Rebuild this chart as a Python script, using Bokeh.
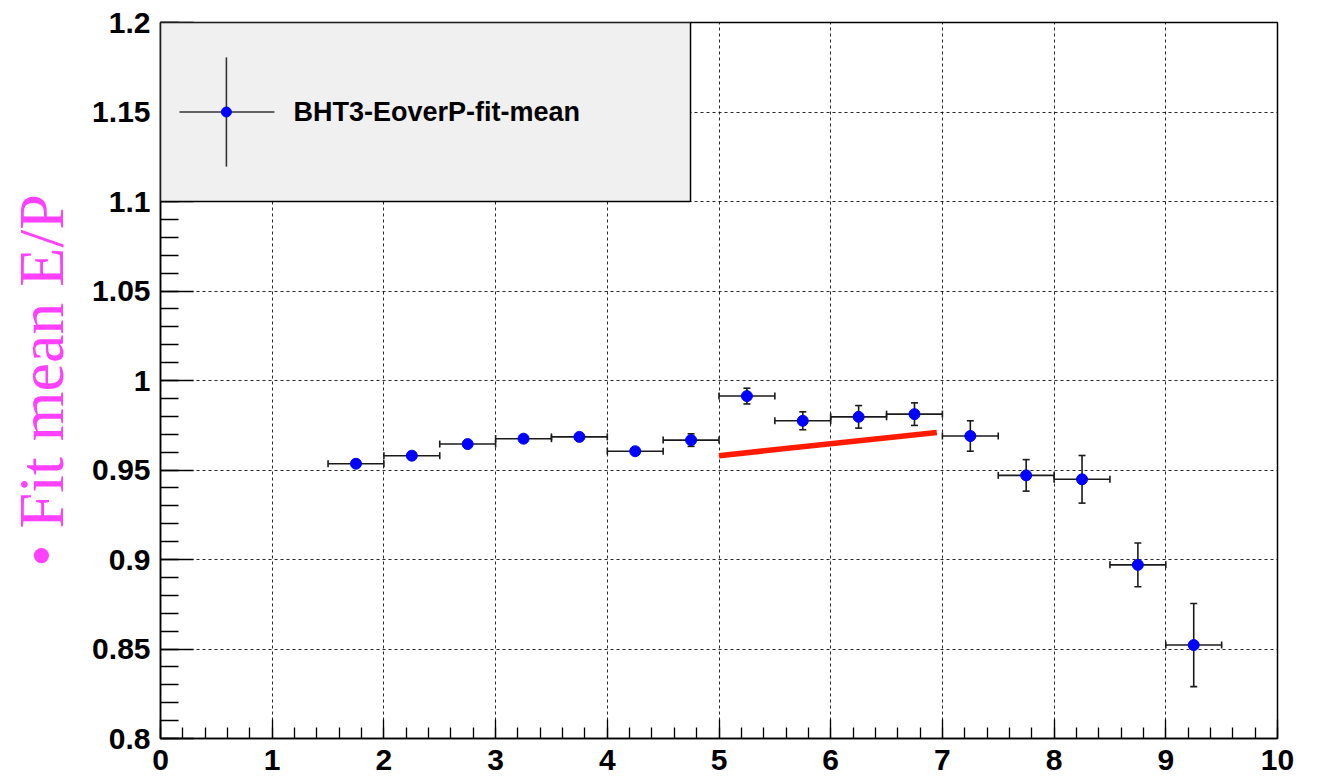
from bokeh.plotting import figure
from bokeh.models import ColumnDataSource, Whisker, TeeHead, FixedTicker, BoxAnnotation, Label
from bokeh.embed import file_html
from bokeh.resources import INLINE

# ---- data ----
bin_centers = [1.75, 2.25, 2.75, 3.25, 3.75, 4.25, 4.75, 5.25,
               5.75, 6.25, 6.75, 7.25, 7.75, 8.25, 8.75, 9.25]
bin_half_widths = [0.25, 0.25, 0.25, 0.25, 0.25, 0.25, 0.25, 0.25,
                   0.25, 0.25, 0.25, 0.25, 0.25, 0.25, 0.25, 0.25]
mean_ep = [0.9535, 0.9580, 0.9645, 0.9675, 0.9685, 0.9605, 0.9667, 0.9913,
           0.9775, 0.9797, 0.9812, 0.9690, 0.9470, 0.9448, 0.8970, 0.8522]
mean_ep_err = [0.0018, 0.0018, 0.0018, 0.0018, 0.0018, 0.0018, 0.0035, 0.0044,
               0.0050, 0.0063, 0.0063, 0.0085, 0.0088, 0.0133, 0.0122, 0.0232]
fit_x = [5.0, 6.95]
fit_y = [0.958, 0.971]

x_ticks = [0, 1, 2, 3, 4, 5, 6, 7, 8, 9, 10]
y_ticks = [0.8, 0.85, 0.9, 0.95, 1.0, 1.05, 1.1, 1.15, 1.2]
y_tick_labels = ["0.8", "0.85", "0.9", "0.95", "1", "1.05", "1.1", "1.15", "1.2"]
legend_label = "BHT3-EoverP-fit-mean"
y_title = "\u2022 Fit mean E/P"

# ---- figure ----
p = figure(width=1310, height=776, x_range=(0, 10), y_range=(0.8, 1.2),
           output_backend="svg", toolbar_location=None,
           min_border_left=160, min_border_right=33, min_border_top=22, min_border_bottom=38)
p.background_fill_color = "white"
p.border_fill_color = "white"
p.outline_line_color = "black"
p.outline_line_width = 1.5

x_minor = [round(i * 0.2, 2) for i in range(51)]
y_minor = [round(0.8 + 0.01 * i, 2) for i in range(41)]
p.xaxis.ticker = FixedTicker(ticks=x_ticks, minor_ticks=x_minor)
p.yaxis.ticker = FixedTicker(ticks=y_ticks, minor_ticks=y_minor)
p.yaxis.major_label_overrides = {t: s for t, s in zip(y_ticks, y_tick_labels)}

for ax in (p.xaxis, p.yaxis):
    ax.axis_line_color = "black"
    ax.axis_line_width = 1.5
    ax.major_tick_line_color = "black"
    ax.minor_tick_line_color = "black"
    ax.major_tick_line_width = 1.3
    ax.minor_tick_line_width = 1.3
    ax.major_tick_out = 0
    ax.minor_tick_out = 0
    ax.major_label_text_font = "Liberation Sans"
    ax.major_label_text_font_style = "bold"
    ax.major_label_text_font_size = "30px"
    ax.major_label_text_color = "black"

p.xaxis.major_tick_in = 19
p.xaxis.minor_tick_in = 11
p.xaxis.major_label_standoff = 11
p.yaxis.major_tick_in = 33
p.yaxis.minor_tick_in = 18
p.yaxis.major_label_standoff = 10

p.yaxis.axis_label = y_title
p.yaxis.axis_label_text_font = "Liberation Serif"
p.yaxis.axis_label_text_font_style = "normal"
p.yaxis.axis_label_text_font_size = "64px"
p.yaxis.axis_label_text_color = "#ff40ff"
p.yaxis.axis_label_standoff = 12

for g in (p.xgrid, p.ygrid):
    g.grid_line_color = "black"
    g.grid_line_dash = "3 3"
    g.grid_line_width = 1
    g.grid_line_alpha = 0.85

# ---- data marks ----
src = ColumnDataSource(dict(
    x=bin_centers, y=mean_ep,
    xl=[c - w for c, w in zip(bin_centers, bin_half_widths)],
    xu=[c + w for c, w in zip(bin_centers, bin_half_widths)],
    yl=[v - e for v, e in zip(mean_ep, mean_ep_err)],
    yu=[v + e for v, e in zip(mean_ep, mean_ep_err)],
))

err_col = "#1a1a1a"
wx = Whisker(source=src, base="y", lower="xl", upper="xu", dimension="width",
             line_color=err_col, line_width=1.6, level="underlay",
             lower_head=TeeHead(size=7, line_color=err_col, line_width=1.6),
             upper_head=TeeHead(size=7, line_color=err_col, line_width=1.6))
wy = Whisker(source=src, base="x", lower="yl", upper="yu", dimension="height",
             line_color=err_col, line_width=1.6, level="underlay",
             lower_head=TeeHead(size=7, line_color=err_col, line_width=1.6),
             upper_head=TeeHead(size=7, line_color=err_col, line_width=1.6))
p.add_layout(wx)
p.add_layout(wy)

p.line(fit_x, fit_y, line_color="#ff1a00", line_width=5.5)
p.scatter("x", "y", source=src, size=11, fill_color="#0000ff", line_color="#0000ff")

# ---- legend box (ROOT style) ----
p.add_layout(BoxAnnotation(left=0, right=4.745, top=1.2, bottom=1.1,
                           fill_color="#f0f0f0", fill_alpha=1.0,
                           line_color="black", line_width=1.5, line_alpha=1.0))
leg_x, leg_y = 0.59, 1.15
r1 = p.segment(x0=[0.17], y0=[leg_y], x1=[1.02], y1=[leg_y], line_color="#333333", line_width=1.6)
r2 = p.segment(x0=[leg_x], y0=[1.1195], x1=[leg_x], y1=[1.1805], line_color="#333333", line_width=1.6)
r3 = p.scatter([leg_x], [leg_y], size=10, fill_color="#0000ff", line_color="#0000ff")
for r in (r1, r2, r3):
    r.level = "overlay"
lab = Label(x=1.19, y=leg_y, text=legend_label, text_font="Liberation Sans",
            text_font_style="bold", text_font_size="27px", text_baseline="middle",
            text_color="black", level="overlay")
p.add_layout(lab)

open("out.html", "w").write(file_html(p, INLINE))
